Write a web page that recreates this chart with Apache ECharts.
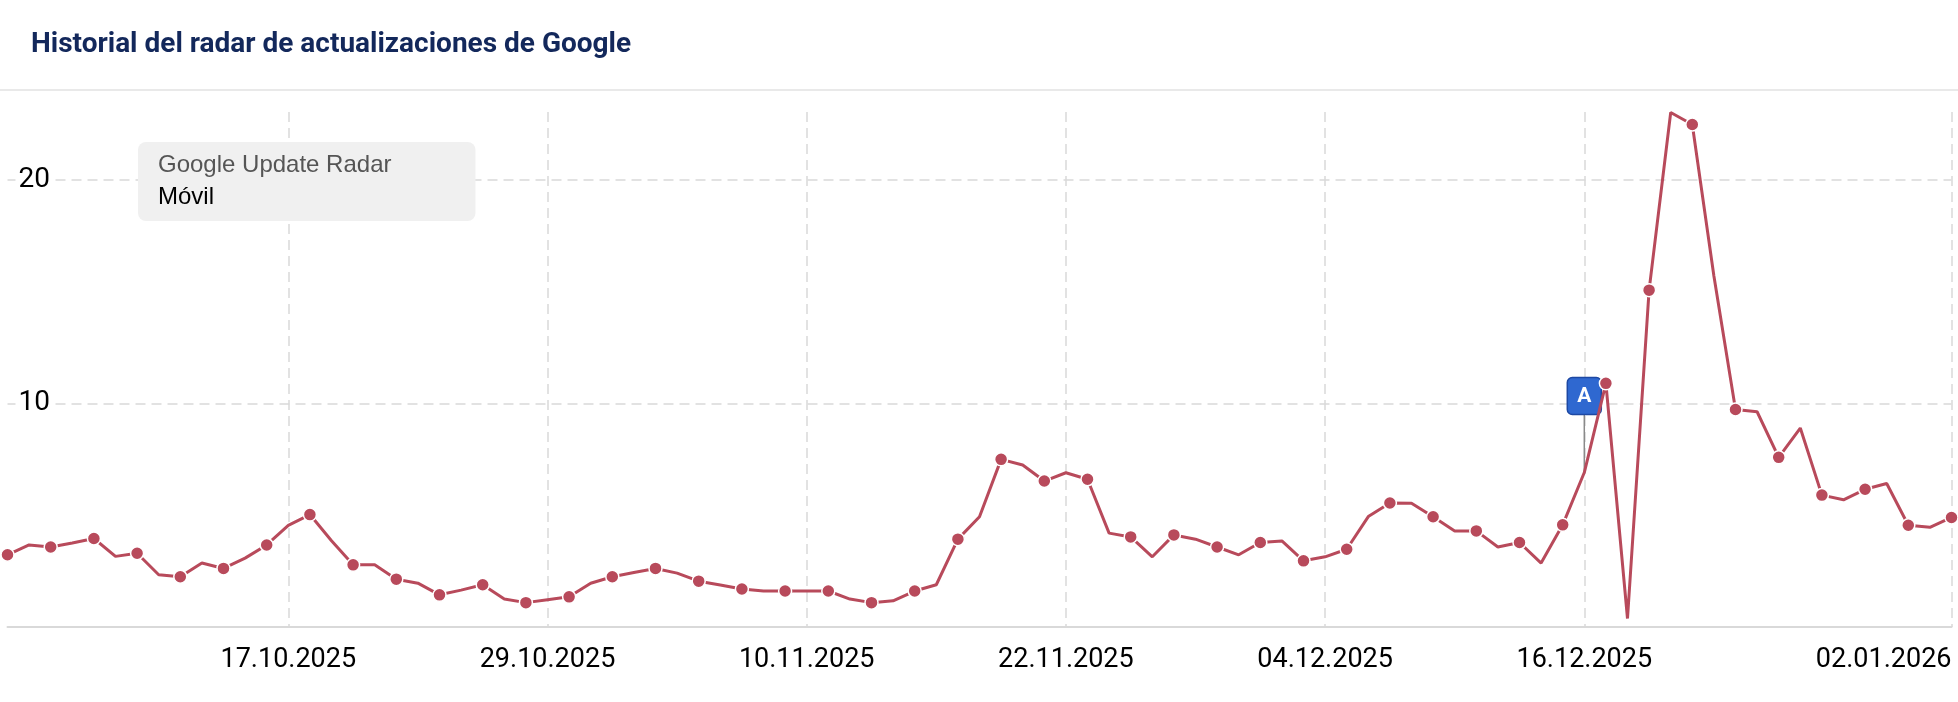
<!DOCTYPE html>
<html>
<head>
<meta charset="utf-8">
<script src="https://cdn.jsdelivr.net/npm/echarts@6/dist/echarts.min.js"></script>
<style>
html,body{margin:0;padding:0;background:#fff;}
#chart{width:1958px;height:702px;}
</style>
</head>
<body>
<div id="chart"></div>
<script>
const categories = [
  '04.10.2025','05.10.2025','06.10.2025','07.10.2025','08.10.2025','09.10.2025','10.10.2025','11.10.2025','12.10.2025','13.10.2025',
  '14.10.2025','15.10.2025','16.10.2025','17.10.2025','18.10.2025','19.10.2025','20.10.2025','21.10.2025','22.10.2025','23.10.2025',
  '24.10.2025','25.10.2025','26.10.2025','27.10.2025','28.10.2025','29.10.2025','30.10.2025','31.10.2025',
  '01.11.2025','02.11.2025','03.11.2025','04.11.2025','05.11.2025','06.11.2025','07.11.2025','08.11.2025','09.11.2025','10.11.2025',
  '11.11.2025','12.11.2025','13.11.2025','14.11.2025','15.11.2025','16.11.2025','17.11.2025','18.11.2025','19.11.2025','20.11.2025',
  '21.11.2025','22.11.2025','23.11.2025','24.11.2025','25.11.2025','26.11.2025','27.11.2025','28.11.2025','29.11.2025','30.11.2025',
  '01.12.2025','02.12.2025','03.12.2025','04.12.2025','05.12.2025','06.12.2025','07.12.2025','08.12.2025','09.12.2025','10.12.2025',
  '11.12.2025','12.12.2025','13.12.2025','14.12.2025','15.12.2025','16.12.2025','17.12.2025','18.12.2025','19.12.2025','20.12.2025',
  '21.12.2025','22.12.2025','23.12.2025','24.12.2025','25.12.2025','26.12.2025','27.12.2025','28.12.2025','29.12.2025','30.12.2025',
  '31.12.2025','01.01.2026','02.01.2026'
];
const movilValues = [
  3.23, 3.67, 3.58, 3.76, 3.96, 3.16, 3.30, 2.34, 2.25, 2.86,
  2.62, 3.08, 3.67, 4.55, 5.03, 3.86, 2.78, 2.78, 2.14, 1.96,
  1.44, 1.65, 1.89, 1.25, 1.09, 1.22, 1.35, 1.96,
  2.25, 2.44, 2.62, 2.41, 2.05, 1.88, 1.70, 1.61, 1.61, 1.61,
  1.61, 1.25, 1.09, 1.17, 1.61, 1.89, 3.93, 4.93, 7.50, 7.25,
  6.53, 6.90, 6.61, 4.20, 4.03, 3.14, 4.12, 3.93, 3.58, 3.23,
  3.78, 3.85, 2.96, 3.14, 3.48, 4.94, 5.55, 5.54, 4.93, 4.30,
  4.30, 3.58, 3.78, 2.86, 4.57, 6.91, 10.90, 0.38, 15.07, 23.02,
  22.48, 15.70, 9.73, 9.63, 7.59, 8.90, 5.90, 5.69, 6.16, 6.42,
  4.55, 4.46, 4.90
];
const xTickLabels = ['17.10.2025','29.10.2025','10.11.2025','22.11.2025','04.12.2025','16.12.2025','02.01.2026'];
const yTickValues = [10, 20];
const flagDates = ['16.12.2025'];
const flagTexts = ['A'];

const LINE_COLOR = '#b84a5b';
const GRID_COLOR = '#d9d9d9';

const chart = echarts.init(document.getElementById('chart'), null, {renderer: 'canvas'});

const flagData = flagDates.map(d => {
  const idx = categories.indexOf(d);
  return [idx, movilValues[idx]];
});

const option = {
  animation: false,
  backgroundColor: '#fff',
  title: [
    {
      text: 'Historial del radar de actualizaciones de Google',
      left: 31,
      top: 31,
      padding: 0,
      textStyle: {fontFamily: 'Roboto', fontWeight: 'bold', fontSize: 28, color: '#13285b'}
    },
    {
      text: 'Google Update Radar',
      subtext: 'Móvil',
      left: 138,
      top: 142,
      padding: [11, 84, 12, 20],
      itemGap: 8,
      backgroundColor: '#f0f0f0',
      borderRadius: 8,
      textStyle: {fontFamily: 'Liberation Sans, Arial, sans-serif', fontWeight: 'normal', fontSize: 24, color: '#555555'},
      subtextStyle: {fontFamily: 'Liberation Sans, Arial, sans-serif', fontSize: 24, color: '#000000'}
    }
  ],
  graphic: [
    {type: 'rect', left: 0, top: 89, z: -1, shape: {width: 1958, height: 2}, style: {fill: '#e9e9e9'}}
  ],
  grid: {left: 7.5, right: 6.5, top: 112, bottom: 75, containLabel: false},
  xAxis: {
    type: 'category',
    data: categories,
    boundaryGap: false,
    axisLine: {show: true, lineStyle: {color: '#d9d9d9', width: 2}},
    axisTick: {show: false},
    axisLabel: {
      interval: (i, v) => xTickLabels.includes(v),
      fontFamily: 'Roboto',
      fontSize: 27,
      color: '#000',
      margin: 20,
      alignMaxLabel: 'right'
    },
    splitLine: {
      show: true,
      interval: (i, v) => xTickLabels.includes(v),
      lineStyle: {color: GRID_COLOR, width: 1.5, type: [10, 6]}
    }
  },
  yAxis: {
    type: 'value',
    min: 0,
    max: 23.04,
    interval: 10,
    z: 10,
    axisLine: {show: false},
    axisTick: {show: false},
    splitLine: {show: false},
    axisLabel: {
      inside: true,
      margin: 8,
      showMinLabel: false,
      showMaxLabel: false,
      fontFamily: 'Roboto',
      fontSize: 28,
      color: '#000',
      backgroundColor: '#fff',
      padding: [0, 4, 0, 3],
      formatter: v => (yTickValues.includes(v) ? String(v) : '')
    }
  },
  series: [
    {
      type: 'custom',
      name: 'flags',
      z: 1,
      silent: true,
      data: flagData,
      renderItem: (params, api) => {
        const p = api.coord([api.value(0), api.value(1)]);
        const stem = 58, w = 34, h = 37;
        return {
          type: 'group',
          children: [
            {type: 'line', shape: {x1: p[0], y1: p[1], x2: p[0], y2: p[1] - stem}, style: {stroke: '#8a8a8a', lineWidth: 1.5}},
            {type: 'rect', shape: {x: p[0] - w / 2, y: p[1] - stem - h, width: w, height: h, r: 5}, style: {fill: '#2f68d0', stroke: '#1d48a3', lineWidth: 1.5}},
            {type: 'text', style: {text: flagTexts[params.dataIndex], x: p[0], y: p[1] - stem - h / 2 + 1, align: 'center', verticalAlign: 'middle', fill: '#fff', font: 'bold 21px Roboto'}}
          ]
        };
      }
    },
    {
      type: 'line',
      name: 'Móvil',
      z: 3,
      data: movilValues,
      showAllSymbol: true,
      symbol: 'circle',
      symbolSize: (v, p) => (p.dataIndex % 2 === 0 ? 13 : 0),
      itemStyle: {color: LINE_COLOR, borderColor: '#fff', borderWidth: 1.5},
      lineStyle: {color: LINE_COLOR, width: 3},
      emphasis: {disabled: true},
      markLine: {
        silent: true,
        z: 1,
        symbol: 'none',
        label: {show: false},
        lineStyle: {color: GRID_COLOR, width: 1.5, type: [10, 6]},
        emphasis: {disabled: true},
        data: yTickValues.map(v => ({yAxis: v}))
      }
    }
  ]
};
chart.setOption(option);
</script>
</body>
</html>
